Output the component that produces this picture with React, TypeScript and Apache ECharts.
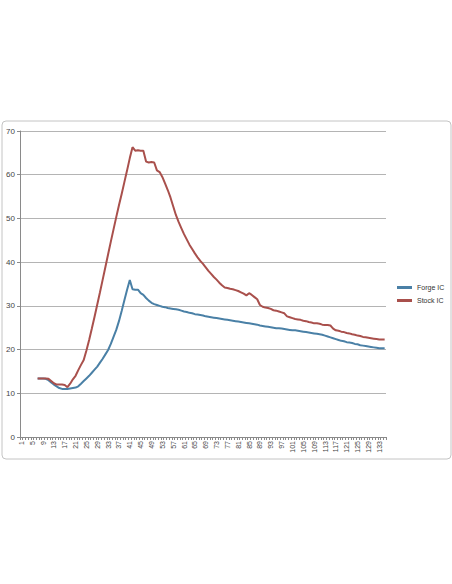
import React, { useEffect, useRef } from "react";
import * as echarts from "echarts";

const categories: string[] = Array.from({ length: 135 }, (_, i) => String(i + 1));

// values start at category 7
const forgeIC: (number | null)[] = [
  null, null, null, null, null, null,
  13.4, 13.4, 13.4, 13.3, 13.0, 12.5, 12.0, 11.6, 11.2, 11.0,
  11.0, 11.0, 11.1, 11.2, 11.3, 11.6, 12.2, 12.8, 13.4, 14.0,
  14.7, 15.4, 16.1, 17.0, 17.9, 18.9, 19.9, 21.3, 22.9, 24.5,
  26.5, 28.8, 31.3, 33.7, 35.9, 33.8, 33.7, 33.7, 32.9, 32.5,
  31.8, 31.2, 30.7, 30.4, 30.2, 30.0, 29.8, 29.7, 29.5, 29.4,
  29.3, 29.2, 29.1, 28.9, 28.7, 28.6, 28.4, 28.3, 28.1, 28.0,
  27.9, 27.8, 27.6, 27.5, 27.4, 27.3, 27.2, 27.1, 27.0, 26.9,
  26.8, 26.7, 26.6, 26.5, 26.4, 26.3, 26.2, 26.1, 26.0, 25.9,
  25.8, 25.7, 25.5, 25.4, 25.3, 25.2, 25.1, 25.0, 24.9, 24.9,
  24.8, 24.7, 24.6, 24.5, 24.4, 24.4, 24.3, 24.2, 24.1, 24.0,
  23.9, 23.8, 23.7, 23.6, 23.5, 23.4, 23.2, 23.0, 22.8, 22.6,
  22.4, 22.2, 22.0, 21.9, 21.7, 21.6, 21.5, 21.3, 21.2, 21.0,
  20.9, 20.8, 20.7, 20.6, 20.5, 20.4, 20.3, 20.3, 20.3,
];

const stockIC: (number | null)[] = [
  null, null, null, null, null, null,
  13.4, 13.4, 13.4, 13.4, 13.3, 12.8, 12.3, 12.0, 12.0, 12.0,
  11.9, 11.4, 12.2, 13.2, 14.0, 15.3, 16.5, 17.6, 19.8, 22.2,
  24.8, 27.5, 30.3, 33.1, 36.0, 38.9, 41.8, 44.7, 47.5, 50.3,
  53.0, 55.6, 58.3, 61.0, 63.8, 66.3, 65.5, 65.6, 65.5, 65.5,
  63.0, 62.8, 62.9, 62.8, 61.0, 60.6, 59.5, 58.0, 56.5, 54.8,
  52.8, 50.8, 49.2, 47.8, 46.4, 45.2, 44.0, 43.0, 42.0, 41.1,
  40.3, 39.6, 38.8, 38.0, 37.3, 36.6, 36.0, 35.3, 34.7, 34.2,
  34.1, 33.9, 33.8, 33.6, 33.4, 33.1, 32.8, 32.4, 32.9, 32.5,
  32.0, 31.5, 30.2, 29.8, 29.6, 29.5, 29.3, 29.0, 28.9, 28.7,
  28.5, 28.3, 27.6, 27.4, 27.2, 27.0, 26.9, 26.8, 26.6, 26.5,
  26.3, 26.2, 26.0, 26.0, 25.9, 25.7, 25.6, 25.6, 25.5, 24.8,
  24.4, 24.3, 24.1, 24.0, 23.8, 23.7, 23.5, 23.4, 23.2, 23.1,
  22.9, 22.8, 22.7, 22.6, 22.5, 22.4, 22.3, 22.3, 22.3,
];

const seriesNames = ["Forge IC", "Stock IC"];
const seriesColors = ["#4a80a6", "#a9504c"];

export default function App() {
  const ref = useRef<HTMLDivElement>(null);
  useEffect(() => {
    if (!ref.current) return;
    const chart = echarts.init(ref.current, null, { renderer: "svg" });
    const font = "Liberation Sans";
    chart.setOption({
      animation: false,
      backgroundColor: "#ffffff",
      textStyle: { fontFamily: font },
      graphic: [
        {
          type: "rect",
          shape: { x: 2, y: 121, width: 449, height: 338, r: 4 },
          style: { fill: "none", stroke: "#c4c4c4", lineWidth: 1 },
          silent: true,
        },
      ],
      grid: { left: 20, right: 66, top: 131, bottom: 147 },
      legend: {
        orient: "vertical",
        left: 392,
        top: 279,
        itemWidth: 15,
        itemHeight: 3,
        itemGap: 6,
        icon: "rect",
        textStyle: { fontSize: 7, color: "#333", fontFamily: font },
        data: seriesNames,
      },
      xAxis: {
        type: "category",
        data: categories,
        boundaryGap: true,
        axisLine: { lineStyle: { color: "#8a8a8a", width: 1 } },
        axisTick: { show: true, interval: 0, length: 3, lineStyle: { color: "#8a8a8a" } },
        axisLabel: {
          interval: 3,
          rotate: 90,
          fontSize: 7,
          color: "#444",
          margin: 4,
          fontFamily: font,
        },
        splitLine: { show: false },
      },
      yAxis: {
        type: "value",
        min: 0,
        max: 70,
        interval: 10,
        axisLine: { show: true, lineStyle: { color: "#8a8a8a", width: 1 } },
        axisTick: { show: true, length: 3, lineStyle: { color: "#8a8a8a" } },
        axisLabel: { fontSize: 8, color: "#444", margin: 5, fontFamily: font },
        splitLine: { show: true, lineStyle: { color: "#b4b4b4", width: 1 } },
      },
      series: [
        {
          name: seriesNames[0],
          type: "line",
          data: forgeIC,
          showSymbol: false,
          symbol: "none",
          lineStyle: { color: seriesColors[0], width: 2 },
          itemStyle: { color: seriesColors[0] },
        },
        {
          name: seriesNames[1],
          type: "line",
          data: stockIC,
          showSymbol: false,
          symbol: "none",
          lineStyle: { color: seriesColors[1], width: 2 },
          itemStyle: { color: seriesColors[1] },
        },
      ],
    });
    return () => chart.dispose();
  }, []);
  return (
    <div
      ref={ref}
      style={{ position: "fixed", left: 0, top: 0, width: 452, height: 584, background: "#fff" }}
    />
  );
}
